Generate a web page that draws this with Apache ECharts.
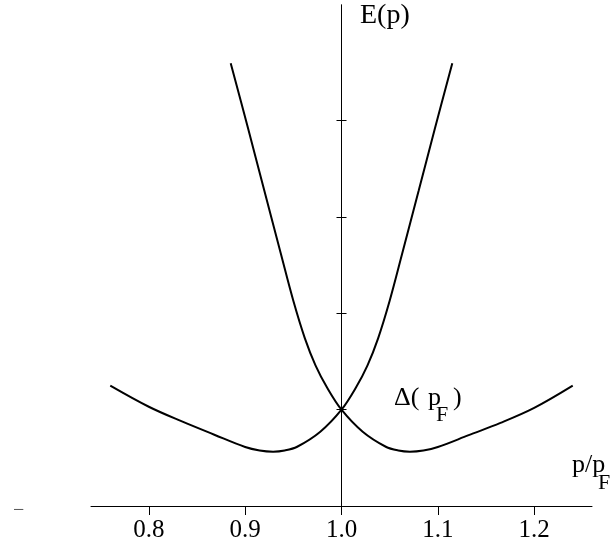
<!DOCTYPE html>
<html>
<head>
<meta charset="utf-8">
<script src="https://cdn.jsdelivr.net/npm/echarts@6/dist/echarts.min.js"></script>
<style>
    html, body { margin: 0; padding: 0; background: #fff; }
    #chart { width: 614px; height: 550px; }
</style>
</head>
<body>
<div id="chart"></div>
<script>
// Branch that comes in from the left, dips, and climbs steeply past p = pF
const branchOneP = [0.760, 0.800, 0.835, 0.868, 0.900, 0.915, 0.929, 0.941, 0.954, 0.978, 1.000, 1.015, 1.027, 1.038, 1.050, 1.063, 1.080, 1.097, 1.115];
const branchOneE = [1.249, 1.030, 0.875, 0.740, 0.612, 0.576, 0.564, 0.576, 0.615, 0.771, 1.000, 1.230, 1.460, 1.740, 2.130, 2.620, 3.270, 3.920, 4.595];

// Mirror branch: falls steeply to p = pF, dips, then rises slowly to the right
const branchTwoP = [0.885, 0.903, 0.920, 0.937, 0.950, 0.962, 0.973, 0.985, 1.000, 1.022, 1.046, 1.059, 1.071, 1.085, 1.100, 1.132, 1.165, 1.200, 1.240];
const branchTwoE = [4.595, 3.920, 3.270, 2.620, 2.130, 1.740, 1.460, 1.230, 1.000, 0.771, 0.615, 0.576, 0.564, 0.576, 0.612, 0.735, 0.862, 1.018, 1.249];

// Axis ticks
const xTicks = [0.8, 0.9, 1.0, 1.1, 1.2];
const yTicks = [1, 2, 3, 4];

const xMin = 0.74;
const xMax = 1.26;
const gridLeft = 91;
const gridRight = 22;
const chartWidth = 614;

const serif = "'Liberation Serif', 'Times New Roman', serif";

const chartElement = document.getElementById('chart');
const chart = echarts.init(chartElement);

// The E axis sits at p/pF = 1, so shift it in from the grid's left edge
const plotWidth = chartWidth - gridLeft - gridRight;
const yAxisOffset = -plotWidth * (1.0 - xMin) / (xMax - xMin);

const lineStyle = { color: '#000', width: 2 };

function yAxisSide(inside) {
    return {
        type: 'value',
        position: 'left',
        offset: yAxisOffset,
        min: 0,
        max: 5.2,
        splitLine: { show: false },
        axisLine: { show: true, lineStyle: { color: '#000', width: 1 } },
        axisTick: {
            show: true,
            inside: inside,
            length: 5,
            customValues: yTicks,
            lineStyle: { color: '#000', width: 1 }
        },
        axisLabel: { show: false }
    };
}

const options = {
    backgroundColor: '#fff',
    animation: false,
    grid: {
        left: gridLeft,
        right: gridRight,
        top: 5,
        bottom: 44
    },
    xAxis: {
        type: 'value',
        min: xMin,
        max: xMax,
        splitLine: { show: false },
        axisLine: { lineStyle: { color: '#000', width: 1 } },
        axisTick: {
            show: true,
            length: 9,
            customValues: xTicks,
            lineStyle: { color: '#000', width: 1 }
        },
        axisLabel: {
            customValues: xTicks,
            margin: 12,
            color: '#000',
            fontFamily: serif,
            fontSize: 25,
            formatter: (value) => value.toFixed(1)
        }
    },
    yAxis: [yAxisSide(false), yAxisSide(true)],
    series: [
        {
            type: 'line',
            data: branchOneP.map((p, i) => [p, branchOneE[i]]),
            smooth: 0.35,
            showSymbol: false,
            lineStyle: lineStyle
        },
        {
            type: 'line',
            data: branchTwoP.map((p, i) => [p, branchTwoE[i]]),
            smooth: 0.35,
            showSymbol: false,
            lineStyle: lineStyle
        }
    ],
    graphic: [
        { type: 'text', x: 360, y: 16, style: { text: 'E(p)', font: `28px ${serif}`, fill: '#000', verticalAlign: 'middle' } },
        { type: 'text', x: 394, y: 398, style: { text: 'Δ(', font: `26px ${serif}`, fill: '#000', verticalAlign: 'middle' } },
        { type: 'text', x: 428, y: 398, style: { text: 'p', font: `26px ${serif}`, fill: '#000', verticalAlign: 'middle' } },
        { type: 'text', x: 436, y: 415, style: { text: 'F', font: `22px ${serif}`, fill: '#000', verticalAlign: 'middle' } },
        { type: 'text', x: 453, y: 398, style: { text: ')', font: `26px ${serif}`, fill: '#000', verticalAlign: 'middle' } },
        { type: 'text', x: 572, y: 465, style: { text: 'p/p', font: `26px ${serif}`, fill: '#000', verticalAlign: 'middle' } },
        { type: 'text', x: 598, y: 483, style: { text: 'F', font: `22px ${serif}`, fill: '#000', verticalAlign: 'middle' } },
        { type: 'text', x: 13, y: 511, style: { text: '−', font: `20px ${serif}`, fill: '#555', verticalAlign: 'middle' } }
    ]
};

chart.setOption(options);
</script>
</body>
</html>
